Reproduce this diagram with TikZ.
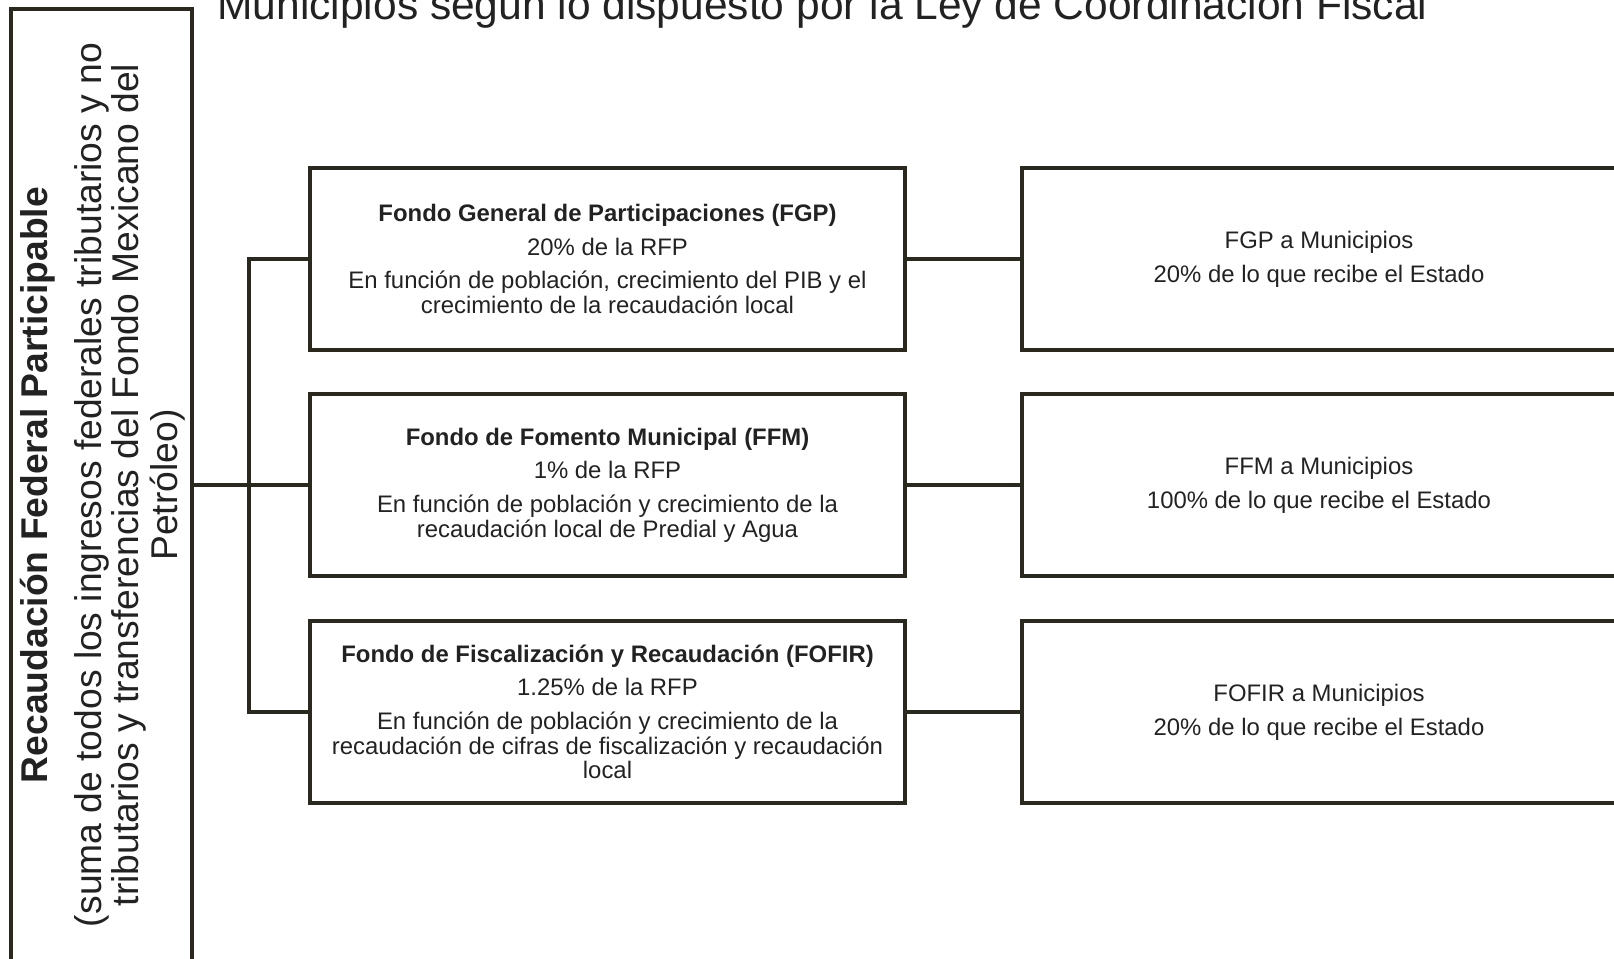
\documentclass[tikz,border=0pt]{standalone}
\usepackage{fontspec}
\setmainfont{Liberation Sans}
\definecolor{linea}{RGB}{43,40,32}
\definecolor{texto}{RGB}{34,34,34}

\begin{document}
\begin{tikzpicture}[x=0.02cm,y=-0.02cm,
  link/.style={draw=linea,line width=2.27pt},
  fondobox/.style={draw=linea,line width=2.27pt,minimum width=11.9cm,minimum height=3.64cm,
    inner sep=0pt,align=center,text=texto,font=\fontsize{13.6}{14.2}\selectfont},
  munbox/.style={fondobox,minimum width=11.88cm},
  rfpbox/.style={draw=linea,line width=2.27pt,minimum width=3.62cm,minimum height=19.04cm,
    inner sep=0pt,text=texto,font=\fontsize{21.2}{20.4}\selectfont}]
  \clip (0,0) rectangle (1614,959);
  % Title (cut at the top)
  \node[anchor=base,text=texto,font=\fontsize{24.2}{29}\selectfont] (titulo) at (822.5,20)
    {Municipios según lo dispuesto por la Ley de Coordinación Fiscal};
  % Left box
  \node[rfpbox] (rfp) at (101.5,485) {};
  \node[text=texto,font=\fontsize{21.2}{20.4}\selectfont] (rfptext) at (104,485)
    {\rotatebox{90}{\begin{tabular}{@{}c@{}}
    \textbf{Recaudación Federal Participable}\\[9pt]
    (suma de todos los ingresos federales tributarios y no\\
    tributarios y transferencias del Fondo Mexicano del\\
    Petróleo)\end{tabular}}};
  % Funds
  \node[fondobox] (fgp) at (607.5,259) {\textbf{Fondo General de Participaciones (FGP)}\\[4.8pt]
    20\% de la RFP\\[4.8pt]
    En función de población, crecimiento del PIB y el\\
    crecimiento de la recaudación local};
  \node[fondobox] (ffm) at (607.5,485) {\textbf{Fondo de Fomento Municipal (FFM)}\\[4.8pt]
    1\% de la RFP\\[4.8pt]
    En función de población y crecimiento de la\\
    recaudación local de Predial y Agua};
  \node[fondobox] (fofir) at (607.5,712) {\textbf{Fondo de Fiscalización y Recaudación (FOFIR)}\\[4.8pt]
    1.25\% de la RFP\\[4.8pt]
    En función de población y crecimiento de la\\
    recaudación de cifras de fiscalización y recaudación\\
    local};
  % Municipal shares
  \node[munbox] (fgpmun) at (1319,259) {FGP a Municipios\\[5.1pt]
    20\% de lo que recibe el Estado};
  \node[munbox] (ffmmun) at (1319,485) {FFM a Municipios\\[5.1pt]
    100\% de lo que recibe el Estado};
  \node[munbox] (fofirmun) at (1319,712) {FOFIR a Municipios\\[5.1pt]
    20\% de lo que recibe el Estado};
  % Connectors
  \draw[link] (rfp.east) -- (ffm.west);
  \draw[link] (fgp.west) -- ++(-59,0) |- (fofir.west);
  \draw[link] (fgp.east) -- (fgpmun.west);
  \draw[link] (ffm.east) -- (ffmmun.west);
  \draw[link] (fofir.east) -- (fofirmun.west);
\end{tikzpicture}
\end{document}
